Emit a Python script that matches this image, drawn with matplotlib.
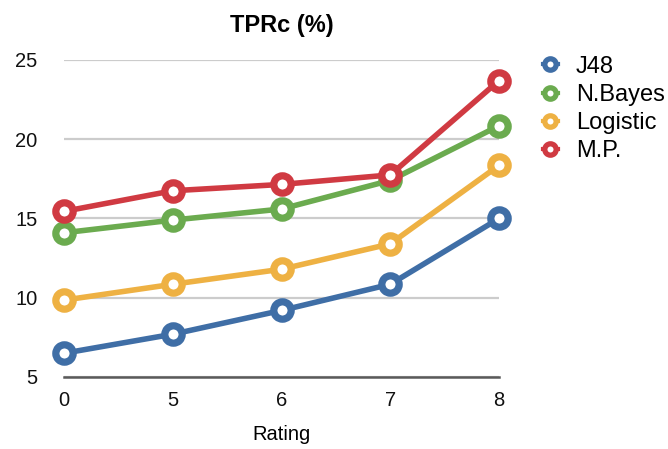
import matplotlib

matplotlib.use("Agg")
import matplotlib.pyplot as plt
from matplotlib.lines import Line2D

plt.rcParams["font.family"] = ["Liberation Sans", "DejaVu Sans"]

# --- data -------------------------------------------------------------------
ratings = ["0", "5", "6", "7", "8"]
j48 = [6.5, 7.7, 9.2, 10.85, 15.0]
nbayes = [14.1, 14.9, 15.6, 17.4, 20.85]
logistic = [9.85, 10.85, 11.8, 13.4, 18.35]
mp = [15.45, 16.75, 17.15, 17.75, 23.7]

series = [
    ("J48", j48, "#3f6ea6"),
    ("N.Bayes", nbayes, "#6bab4f"),
    ("Logistic", logistic, "#eeb143"),
    ("M.P.", mp, "#d03a42"),
]
yticks = [5, 10, 15, 20, 25]

fig = plt.figure(figsize=(6.68, 4.49), dpi=100)
ax = fig.add_axes([64 / 668, 1 - 377 / 449, 435 / 668, 317 / 449])

xs = range(len(ratings))
for name, vals, color in series:
    ax.plot(xs, vals, color=color, linewidth=4, marker="o", markersize=12.5,
            markerfacecolor="white", markeredgecolor=color, markeredgewidth=5.2,
            clip_on=False, zorder=3)

ax.set_xlim(0, len(ratings) - 1)
ax.set_ylim(5, 25)
ax.set_xticks(list(xs), ratings)
ax.set_yticks(yticks)
ax.grid(axis="y", color="#cccccc", linewidth=1.6, zorder=0)
ax.set_axisbelow(True)
for s in ["top", "right", "left"]:
    ax.spines[s].set_visible(False)
ax.spines["bottom"].set_color("#5a5a5a")
ax.spines["bottom"].set_linewidth(1.8)
ax.tick_params(length=0, labelsize=14.5, colors="#111111")
ax.tick_params(axis="y", pad=19)
ax.tick_params(axis="x", pad=10)
ax.set_xlabel("Rating", fontsize=14.5, labelpad=11)
ax.set_title("TPRc (%)", fontsize=17, fontweight="bold", pad=20)

handles = [
    Line2D([], [], color=c, linewidth=3, marker="o", markersize=8.2,
           markerfacecolor="white", markeredgecolor=c, markeredgewidth=3.8)
    for _, _, c in series
]
fig.legend(handles, [s[0] for s in series], loc="upper left",
           bbox_to_anchor=(538 / 668, 1 - 51 / 449), frameon=False,
           fontsize=17, handlelength=0.65, handletextpad=0.75, labelspacing=0.26,
           borderaxespad=0, borderpad=0.2)

fig.savefig("out.png")
